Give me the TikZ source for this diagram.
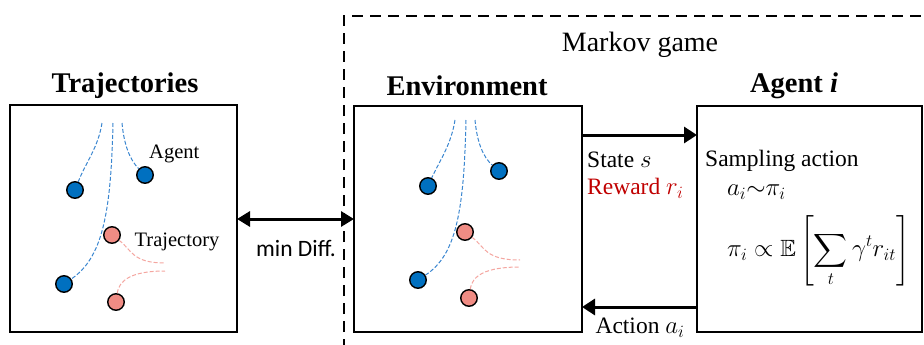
\documentclass[tikz,border=0pt]{standalone}
\usepackage{amssymb}
\usepackage{fontspec}
\setmainfont{Liberation Serif}
\newfontfamily\calfont{Carlito}
\usetikzlibrary{arrows.meta}

\definecolor{agentblue}{HTML}{0070C0}
\definecolor{trajpink}{HTML}{F08C84}
\definecolor{pathblue}{HTML}{3A86D0}
\definecolor{pathpink}{HTML}{F4A6A0}
\definecolor{rewardred}{HTML}{C00000}

\tikzset{
  panel/.style={draw, line width=2.3pt, inner sep=0pt, outer sep=0pt, anchor=north west},
  title/.style={font=\fontsize{28.5}{32}\selectfont\bfseries, inner sep=0pt},
  label/.style={font=\fontsize{23.5}{27}\selectfont, inner sep=0pt},
  mathlabel/.style={font=\fontsize{26}{30}\selectfont, inner sep=0pt},
  small/.style={font=\fontsize{20.5}{24}\selectfont, inner sep=0pt},
  dotbase/.style={circle, draw, line width=1.4pt, minimum size=16.5pt, inner sep=0pt},
  agentdot/.style={dotbase, fill=agentblue},
  trajdot/.style={dotbase, fill=trajpink},
  bluepath/.style={draw=pathblue, line width=1pt, dash pattern=on 4pt off 2pt},
  pinkpath/.style={draw=pathpink, line width=1pt, dash pattern=on 4pt off 2pt},
  flow/.style={line width=3pt, -{Triangle[length=13pt,width=16pt]}},
  twoway/.style={line width=3pt, {Triangle[length=13pt,width=15pt]}-{Triangle[length=13pt,width=15pt]}},
  gamebox/.style={line width=2.6pt, dash pattern=on 11pt off 7pt},
}

\begin{document}
\begin{tikzpicture}[x=1pt, y=-1pt]
\useasboundingbox (0,0) rectangle (924,345);

% dashed frame of the Markov game (runs off the right and bottom)
\draw[gamebox] (344,350) -- (344,16) -- (935,16);
\node[font=\fontsize{28}{32}\selectfont, inner sep=0pt] (game) at (640,45) {Markov game};

% panels
\node[panel, minimum width=227pt, minimum height=227pt] (traj) at (10,105) {};
\node[panel, minimum width=228pt, minimum height=226pt] (env) at (354,106) {};
\node[panel, minimum width=225pt, minimum height=226pt] (agent) at (697,106) {};

\node[title] (trajtitle) at (125,86) {Trajectories};
\node[title] (envtitle) at (467,86) {Environment};
\node[title] (agenttitle) at (794,86) {Agent \textit{i}};

% --- Trajectories panel ---
\node[agentdot] (ta1) at (75,190) {};
\node[agentdot] (ta2) at (145,175) {};
\node[agentdot] (ta3) at (64,284) {};
\node[trajdot]  (tt1) at (112,235) {};
\node[trajdot]  (tt2) at (116,302) {};
\coordinate (tp1) at (102,123);
\coordinate (tp2) at (113,123);
\coordinate (tp3) at (122,123);
\coordinate (tq1) at (165,263);
\coordinate (tq2) at (165,271);
\draw[bluepath] (tp1) .. controls (98,148) and (86,162) .. (ta1);
\draw[bluepath] (tp2) .. controls (111,215) and (102,258) .. (ta3);
\draw[bluepath] (tp3) .. controls (124,145) and (130,160) .. (ta2);
\draw[pinkpath] (tt1) .. controls (132,250) and (132,263) .. (tq1);
\draw[pinkpath] (tt2) .. controls (119,280) and (132,271) .. (tq2);
\node[small, anchor=west] (agentlbl) at (149,154) {Agent};
\node[small, anchor=center] (trajlbl) at (177,242) {Trajectory};

% --- Environment panel ---
\node[agentdot] (ea1) at (428,186) {};
\node[agentdot] (ea2) at (499,171) {};
\node[agentdot] (ea3) at (418,280) {};
\node[trajdot]  (et1) at (465,232) {};
\node[trajdot]  (et2) at (469,298) {};
\coordinate (ep1) at (455,120);
\coordinate (ep2) at (466,120);
\coordinate (ep3) at (475,120);
\coordinate (eq1) at (520,260);
\coordinate (eq2) at (520,267);
\draw[bluepath] (ep1) .. controls (451,145) and (440,160) .. (ea1);
\draw[bluepath] (ep2) .. controls (464,212) and (456,255) .. (ea3);
\draw[bluepath] (ep3) .. controls (477,142) and (483,157) .. (ea2);
\draw[pinkpath] (et1) .. controls (485,247) and (485,260) .. (eq1);
\draw[pinkpath] (et2) .. controls (472,276) and (485,267) .. (eq2);

% --- Agent panel ---
\node[label, anchor=west] (sampling) at (705,161) {Sampling action};
\node[mathlabel, anchor=west] (sample) at (727,192) {$a_i{\sim}\pi_i$};
\node[font=\fontsize{23.5}{28}\selectfont, inner sep=0pt, anchor=west] (policy) at (727,251)
  {$\pi_i \propto \mathbb{E}\left[\vphantom{\Bigg|}\!\displaystyle\sum_t \gamma^t r_{it}\right]$};

% --- interaction arrows ---
\coordinate (sy) at (0,135);
\coordinate (ay) at (0,307);
\coordinate (my) at (0,219);
\draw[flow] (env.east |- sy) -- (agent.west |- sy);
\draw[flow] (agent.west |- ay) -- (env.east |- ay);
\draw[twoway] (traj.east |- my) -- (env.west |- my);

\node[label, anchor=west] (state) at (587,160) {State {\fontsize{26}{30}\selectfont$s$}};
\node[label, anchor=west, text=rewardred] (reward) at (587,188) {Reward {\fontsize{26}{30}\selectfont$r_i$}};
\node[label, anchor=center] (action) at (640,328) {Action {\fontsize{26}{30}\selectfont$a_i$}};
\node[font=\fontsize{23.5}{27}\selectfont\calfont, inner sep=0pt] (mindiff) at (296,248) {min Diff.};

\end{tikzpicture}
\end{document}
